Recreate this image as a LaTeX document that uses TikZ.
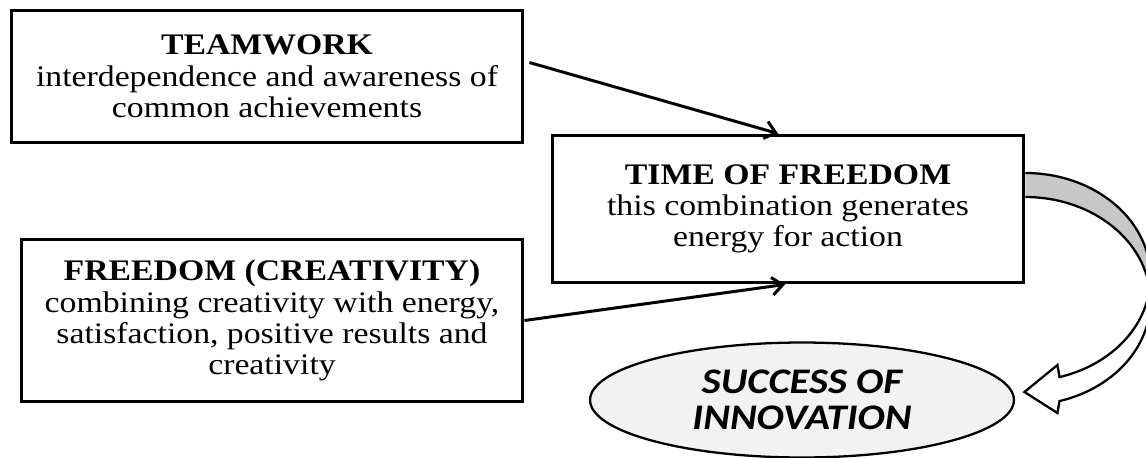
\documentclass[tikz,border=0pt]{standalone}
\usepackage{fontspec}
\setmainfont{Liberation Serif}[FakeStretch=1.13]
\newfontfamily\ovalfont{Carlito}[FakeStretch=1.13]
\usetikzlibrary{shapes.geometric,arrows.meta,calc}

\begin{document}
\begin{tikzpicture}[
    x=0.02cm, y=-0.02cm,
    box/.style={draw, line width=1.7pt, rectangle, align=center, inner sep=0pt, font={\fontsize{17}{17.8}\selectfont}},
    ovalbox/.style={draw, line width=1.3pt, ellipse, fill=black!5, minimum width=8.48cm, minimum height=2.3cm, inner sep=0pt, align=center, font={\ovalfont\bfseries\itshape\fontsize{20.5}{20.5}\selectfont}},
    link/.style={line width=1.7pt, -{Straight Barb[length=6pt,width=10pt]}},
  ]
    \useasboundingbox (0,0) rectangle (1146,457);

    \node[box, minimum width=10.24cm, minimum height=2.66cm] (teamwork) at (267,76.5)
      {\textbf{TEAMWORK}\\interdependence and awareness of\\common achievements};
    \node[box, minimum width=9.44cm, minimum height=2.96cm] (time) at (788,209)
      {\textbf{TIME OF FREEDOM}\\this combination generates\\energy for action};
    \node[box, minimum width=10.04cm, minimum height=3.26cm] (freedom) at (272,320.5)
      {\textbf{FREEDOM (CREATIVITY)}\\combining creativity with energy,\\satisfaction, positive results and\\creativity};
    \node[ovalbox, text depth=0pt] (success) at (802,400) {SUCCESS OF\\INNOVATION};

    \draw[link] ($(teamwork.east)+(5,-14)$) -- ($(time.north)+(-10,0)$);
    \draw[link] (freedom.east) -- ($(time.south)+(-3,0)$);

    % curved block arrow from the right side of the box down to the oval
    \begin{scope}[shift={(time.east)}, line width=1.3pt]
      % back of the band
      \fill[black!22] plot[domain=90:-6.63, samples=40] ({125*cos(\x)}, {68-104*sin(\x)})
        -- plot[domain=6.63:90, samples=40] ({125*cos(\x)}, {92-104*sin(\x)}) -- cycle;
      % front of the band with the head
      \draw[fill=white] plot[domain=-6.63:-74.2, samples=40] ({125*cos(\x)}, {68-104*sin(\x)})
        -- (32,156) -- (-1,183) -- (32,204)
        -- plot[domain=-74.2:6.63, samples=40] ({125*cos(\x)}, {92-104*sin(\x)}) -- cycle;
      % outline of the back
      \draw plot[domain=90:-6.63, samples=40] ({125*cos(\x)}, {68-104*sin(\x)});
      \draw plot[domain=6.63:90, samples=40] ({125*cos(\x)}, {92-104*sin(\x)});
    \end{scope}
  \end{tikzpicture}
\end{document}
